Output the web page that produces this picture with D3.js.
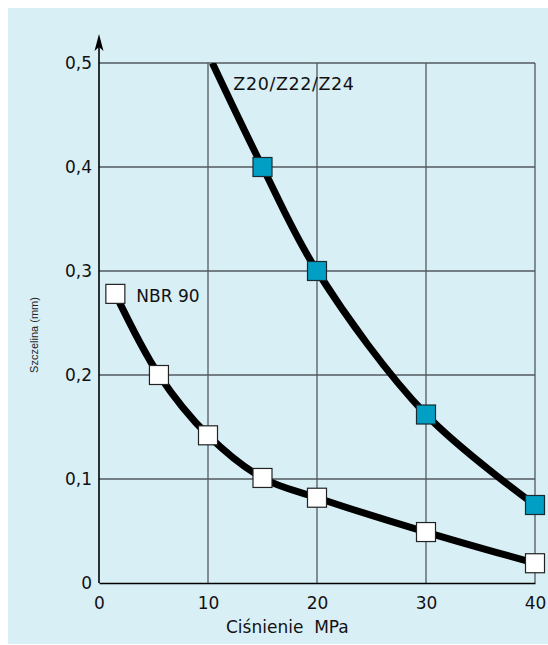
<!DOCTYPE html>
<html><head><meta charset="utf-8">
<script src="https://cdn.jsdelivr.net/npm/d3@7"></script>
<style>body{margin:0;background:#fff}svg{display:block}</style>
</head><body>
<svg id="c" width="548" height="645"></svg>
<script>
// data
const xTicks = [0, 10, 20, 30, 40];
const yTicks = [0, 0.1, 0.2, 0.3, 0.4, 0.5];
const yTickLabels = ["0", "0,1", "0,2", "0,3", "0,4", "0,5"];
const zPressure = [15, 20, 30, 40];
const zGap = [0.4, 0.3, 0.162, 0.075];
const zCurveStartPressure = 10.4;
const zCurveStartGap = 0.5;
const nbrPressure = [1.5, 5.5, 10, 15, 20, 30, 40];
const nbrGap = [0.278, 0.2, 0.142, 0.101, 0.082, 0.049, 0.019];
const seriesNames = ["Z20/Z22/Z24", "NBR 90"];
const xTitle = "Ciśnienie  MPa";
const yTitle = "Szczelina (mm)";

const svg = d3.select("#c");
svg.append("rect").attr("x", 8).attr("y", 8).attr("width", 540).attr("height", 636).attr("fill", "#d9eff6");

const x = d3.scaleLinear().domain([0, 40]).range([99, 535]);
const y = d3.scaleLinear().domain([0, 0.5]).range([583, 63]);
const font = "DejaVu Sans, sans-serif";

// grid
const g = svg.append("g");
g.selectAll(".vg").data(xTicks.slice(1)).join("line")
  .attr("x1", d => x(d)).attr("x2", d => x(d)).attr("y1", y(0)).attr("y2", y(0.5))
  .attr("stroke", "#505a5e").attr("stroke-width", 1.3);
g.selectAll(".hg").data(yTicks.slice(1)).join("line")
  .attr("x1", x(0)).attr("x2", x(40)).attr("y1", d => y(d)).attr("y2", d => y(d))
  .attr("stroke", "#505a5e").attr("stroke-width", 1.3);

// axes
const xAxis = d3.axisBottom(x).tickValues(xTicks).tickSize(0).tickPadding(14);
const xa = svg.append("g").attr("transform", `translate(0,${y(0)})`).call(xAxis);
xa.select(".domain").attr("stroke", "#000").attr("stroke-width", 1.6);
xa.selectAll("text").attr("font-family", font).attr("font-size", 17).attr("fill", "#111");

const yAxis = d3.axisLeft(y).tickValues(yTicks).tickFormat((d, i) => yTickLabels[i]).tickSize(0).tickPadding(7);
const ya = svg.append("g").attr("transform", `translate(${x(0)},0)`).call(yAxis);
ya.select(".domain").remove();
ya.selectAll("text").attr("font-family", font).attr("font-size", 17).attr("fill", "#111");
svg.append("line").attr("x1", x(0)).attr("x2", x(0)).attr("y1", y(0)).attr("y2", y(0.5) - 20)
  .attr("stroke", "#000").attr("stroke-width", 1.6);
const ax = x(0), ay = y(0.5) - 29;
svg.append("path").attr("d", `M${ax},${ay} L${ax+4.5},${ay+17} L${ax},${ay+13} L${ax-4.5},${ay+17} Z`).attr("fill", "#000");

// curves
const clip = svg.append("clipPath").attr("id", "pc").append("rect")
  .attr("x", x(0)).attr("y", y(0.5)).attr("width", x(40) - x(0) + 20).attr("height", y(0) - y(0.5));
const line = d3.line().x(d => x(d[0])).y(d => y(d[1])).curve(d3.curveCatmullRom.alpha(0.5));
const zPts = [[zCurveStartPressure, zCurveStartGap]].concat(zPressure.map((p, i) => [p, zGap[i]]));
const nPts = nbrPressure.map((p, i) => [p, nbrGap[i]]);
svg.append("path").attr("d", line(zPts)).attr("fill", "none").attr("stroke", "#000").attr("stroke-width", 7).attr("clip-path", "url(#pc)");
svg.append("path").attr("d", line(nPts)).attr("fill", "none").attr("stroke", "#000").attr("stroke-width", 7);

// markers
const ms = 19;
svg.selectAll(".zm").data(zPressure.map((p, i) => [p, zGap[i]])).join("rect")
  .attr("x", d => x(d[0]) - ms / 2).attr("y", d => y(d[1]) - ms / 2).attr("width", ms).attr("height", ms)
  .attr("fill", "#019fc4").attr("stroke", "#1a2a30").attr("stroke-width", 1.2);
svg.selectAll(".nm").data(nPts).join("rect")
  .attr("x", d => x(d[0]) - ms / 2).attr("y", d => y(d[1]) - ms / 2).attr("width", ms).attr("height", ms)
  .attr("fill", "#fff").attr("stroke", "#222").attr("stroke-width", 1.2);

// labels
svg.append("text").attr("x", x(zCurveStartPressure) + 21).attr("y", y(zCurveStartGap) + 27)
  .attr("font-family", font).attr("font-size", 17.5).attr("letter-spacing", 0.6).attr("fill", "#111").text(seriesNames[0]);
svg.append("text").attr("x", x(nbrPressure[0]) + 21).attr("y", y(nbrGap[0]) + 8)
  .attr("font-family", font).attr("font-size", 17).attr("fill", "#111").text(seriesNames[1]);
svg.append("text").attr("x", 226).attr("y", 633).attr("xml:space", "preserve")
  .attr("font-family", font).attr("font-size", 17).attr("fill", "#111").style("white-space", "pre").text(xTitle);
svg.append("text").attr("transform", "translate(38,335) rotate(-90)").attr("text-anchor", "middle")
  .attr("font-family", "Liberation Sans, Arial, sans-serif").attr("font-size", 11).attr("fill", "#222").text(yTitle);
</script>
</body></html>
